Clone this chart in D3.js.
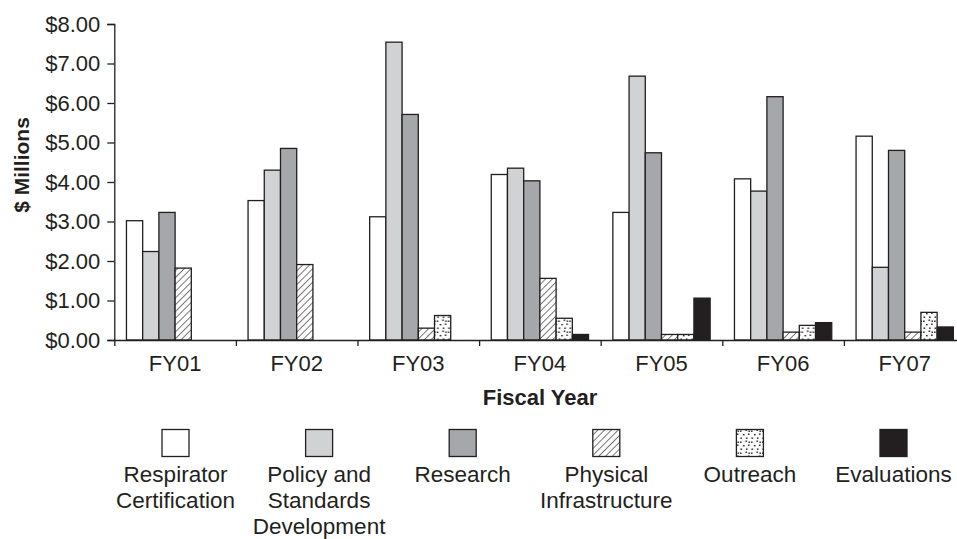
<!DOCTYPE html>
<html>
<head>
<meta charset="utf-8">
<script src="https://cdn.jsdelivr.net/npm/d3@7/dist/d3.min.js"></script>
<style>
  html, body { margin: 0; padding: 0; background: #fff; }
  svg { display: block; }
  text { font-family: "Liberation Sans", Arial, Helvetica, sans-serif; fill: #231f20; }
</style>
</head>
<body>
<svg id="chart" width="957" height="539"></svg>
<script>
// Fiscal years on the x axis
const years = ["FY01", "FY02", "FY03", "FY04", "FY05", "FY06", "FY07"];

// Program areas (legend order = bar order within a year)
const series = ["Respirator Certification", "Policy and Standards Development", "Research",
                "Physical Infrastructure", "Outreach", "Evaluations"];
const legendLines = [
  ["Respirator", "Certification"],
  ["Policy and", "Standards", "Development"],
  ["Research"],
  ["Physical", "Infrastructure"],
  ["Outreach"],
  ["Evaluations"]
];

// Funding, $ millions, one array per program area (FY01..FY07)
const respiratorCertification = [3.02, 3.53, 3.12, 4.19, 3.23, 4.08, 5.16];
const policyStandards         = [2.24, 4.30, 7.54, 4.35, 6.68, 3.77, 1.84];
const research                = [3.23, 4.85, 5.71, 4.03, 4.74, 6.16, 4.80];
const physicalInfrastructure  = [1.82, 1.91, 0.30, 1.56, 0.14, 0.20, 0.20];
const outreach                = [0.00, 0.00, 0.62, 0.55, 0.14, 0.37, 0.70];
const evaluations             = [0.00, 0.00, 0.00, 0.14, 1.06, 0.44, 0.33];

// Y axis ticks
const yTicks = [0, 1, 2, 3, 4, 5, 6, 7, 8];

const values = [respiratorCertification, policyStandards, research,
                physicalInfrastructure, outreach, evaluations];

const svg = d3.select("#chart");
const ink = "#231f20";

// Fill patterns: diagonal hatch and speckle
const defs = svg.append("defs");
const hatch = defs.append("pattern")
  .attr("id", "hatch").attr("patternUnits", "userSpaceOnUse")
  .attr("width", 4.8).attr("height", 4.8)
  .attr("patternTransform", "rotate(45)");
hatch.append("rect").attr("width", 4.8).attr("height", 4.8).attr("fill", "#fff");
hatch.append("line").attr("x1", 0).attr("y1", 0).attr("x2", 0).attr("y2", 4.8)
  .attr("stroke", ink).attr("stroke-width", 1.2);

const dots = defs.append("pattern")
  .attr("id", "dots").attr("patternUnits", "userSpaceOnUse")
  .attr("width", 11).attr("height", 11);
dots.append("rect").attr("width", 11).attr("height", 11).attr("fill", "#fff");
[[1, 1.5], [6.5, 0.5], [4, 5], [9, 4.5], [1.5, 8.5], [7, 8.5], [9.5, 1.5]].forEach(([cx, cy]) =>
  dots.append("rect").attr("x", cx).attr("y", cy).attr("width", 1.6).attr("height", 1.4)
    .attr("fill", ink));

const fills = ["#ffffff", "#d1d2d4", "#a6a7aa", "url(#hatch)", "url(#dots)", ink];

// Layout
const plotLeft = 114.3, plotBottom = 340, plotTop = 24;
const step = 121.6;
const plotRight = plotLeft + step * years.length;

const y = d3.scaleLinear().domain([0, 8]).range([plotBottom, plotTop]);
const x0 = d3.scaleBand().domain(years).range([plotLeft, plotRight])
  .paddingInner(0.2).paddingOuter(0.1);
const x1 = d3.scaleBand().domain(d3.range(series.length)).range([0, x0.bandwidth()]);
const xEdge = d3.scaleLinear().domain([0, years.length]).range([plotLeft, plotRight]);

// Bars
const groups = svg.append("g").selectAll("g").data(years).join("g")
  .attr("transform", d => `translate(${x0(d)},0)`);
groups.selectAll("rect")
  .data((yr, i) => values.map((arr, s) => ({ s, v: arr[i] })))
  .join("rect")
  .attr("x", d => x1(d.s))
  .attr("y", d => y(d.v))
  .attr("width", x1.bandwidth())
  .attr("height", d => y(0) - y(d.v))
  .attr("fill", d => fills[d.s])
  .attr("stroke", ink)
  .attr("stroke-width", 1.3);

// Y axis
const yAxis = svg.append("g").attr("transform", `translate(${plotLeft},0)`)
  .call(d3.axisLeft(y).tickValues(yTicks).tickSize(7).tickPadding(7)
    .tickFormat(d => "$" + d3.format(".2f")(d)));
yAxis.select(".domain").attr("stroke", ink).attr("stroke-width", 1.3);
yAxis.selectAll(".tick line").attr("stroke", ink).attr("stroke-width", 1.3);
yAxis.selectAll(".tick text").attr("font-size", 22).attr("fill", ink)
  .attr("font-family", "Liberation Sans, Arial, sans-serif");

// X axis: boundary ticks and year labels
const xAxis = svg.append("g").attr("transform", `translate(0,${plotBottom})`)
  .call(d3.axisBottom(xEdge).tickValues(d3.range(years.length + 1)).tickSize(6)
    .tickSizeOuter(0).tickFormat(""));
xAxis.select(".domain").attr("stroke", ink).attr("stroke-width", 1.3);
xAxis.selectAll(".tick line").attr("stroke", ink).attr("stroke-width", 1.3);

const xLabels = svg.append("g").attr("transform", `translate(0,${plotBottom})`)
  .call(d3.axisBottom(x0).tickSize(0).tickPadding(15));
xLabels.select(".domain").remove();
xLabels.selectAll(".tick text").attr("font-size", 22).attr("fill", ink)
  .attr("font-family", "Liberation Sans, Arial, sans-serif");

// Axis titles
svg.append("text").attr("x", 540).attr("y", 405).attr("text-anchor", "middle")
  .attr("font-size", 22).attr("font-weight", "bold").text("Fiscal Year");
svg.append("text").attr("transform", "translate(29,165) rotate(-90)")
  .attr("text-anchor", "middle").attr("font-size", 21).attr("font-weight", "bold")
  .text("$ Millions");

// Legend
const legX = d3.scalePoint().domain(d3.range(series.length)).range([175.5, 893.5]);
const leg = svg.append("g").selectAll("g").data(series).join("g")
  .attr("transform", (d, i) => `translate(${legX(i)},0)`);
leg.append("rect").attr("x", -13.5).attr("y", 429.5).attr("width", 27).attr("height", 27)
  .attr("fill", (d, i) => fills[i]).attr("stroke", ink).attr("stroke-width", 1.3);
leg.each(function (d, i) {
  d3.select(this).selectAll("text").data(legendLines[i]).join("text")
    .attr("x", 0).attr("y", (t, k) => 482 + k * 26)
    .attr("text-anchor", "middle").attr("font-size", 22.5).text(t => t);
});
</script>
</body>
</html>
